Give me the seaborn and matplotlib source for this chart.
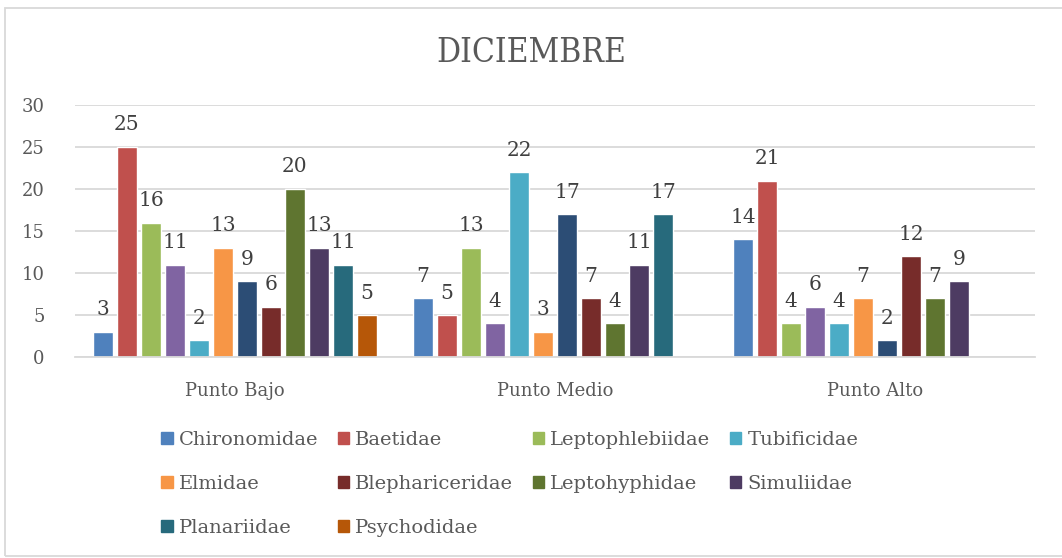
import numpy as np
import pandas as pd
import matplotlib
matplotlib.use("Agg")
import matplotlib.pyplot as plt
import seaborn as sns

puntos = ["Punto Bajo", "Punto Medio", "Punto Alto"]
familias = ["Chironomidae", "Baetidae", "Leptophlebiidae", "Serie 4", "Tubificidae",
            "Elmidae", "Serie 7", "Blephariceridae", "Leptohyphidae", "Simuliidae",
            "Planariidae", "Psychodidae"]
punto_bajo = [3, 25, 16, 11, 2, 13, 9, 6, 20, 13, 11, 5]
punto_medio = [7, 5, 13, 4, 22, 3, 17, 7, 4, 11, 17, 0]
punto_alto = [14, 21, 4, 6, 4, 7, 2, 12, 7, 9, 0, 0]
colores = ["#4F81BD", "#C0504D", "#9BBB59", "#8064A2", "#4BACC6", "#F79646",
           "#2C4D75", "#772C2A", "#5F7530", "#4D3B62", "#276A7C", "#B65708"]

rows = []
for p, vals in zip(puntos, [punto_bajo, punto_medio, punto_alto]):
    for f, v in zip(familias, vals):
        rows.append({"Punto": p, "Familia": f, "Valor": v})
df = pd.DataFrame(rows)

sns.set_style("white")
plt.rcParams["font.family"] = ["DejaVu Serif"]
gris = "#595959"

fig = plt.figure(figsize=(10.62, 5.58), dpi=100)
ax = fig.add_axes([0.0706, 0.360, 0.904, 0.452])

sns.barplot(data=df, x="Punto", y="Valor", hue="Familia", order=puntos,
            hue_order=familias, palette=dict(zip(familias, colores)),
            saturation=1, width=0.9, gap=0.2, ax=ax, legend=False)

for cont in ax.containers:
    labels = [f"{int(b.get_height())}" if b.get_height() > 0 else "" for b in cont]
    ax.bar_label(cont, labels=labels, padding=9, fontsize=14.5, color="#404040")

ax.set_ylim(0, 30)
ax.set_yticks(range(0, 31, 5))
ax.set_xlim(-0.5, 2.5)
ax.yaxis.grid(True, color="#D9D9D9", linewidth=1.3)
ax.set_axisbelow(True)
for s in ["left", "top", "right"]:
    ax.spines[s].set_visible(False)
ax.spines["bottom"].set_color("#D9D9D9")
ax.spines["bottom"].set_linewidth(1.3)
ax.tick_params(axis="both", length=0, labelsize=13, labelcolor=gris)
ax.tick_params(axis="x", pad=18)
ax.tick_params(axis="y", pad=22)
ax.set_xlabel("")
ax.set_ylabel("")

fig.text(0.5, 0.905, "DICIEMBRE", ha="center", va="center", fontsize=24,
         color=gris, fontstretch="condensed")

# legend, ordered so it reads row by row
orden = ["Chironomidae", "Elmidae", "Planariidae", "Baetidae", "Blephariceridae",
         "Psychodidae", "Leptophlebiidae", "Leptohyphidae", "Tubificidae", "Simuliidae"]
col = dict(zip(familias, colores))
handles = [plt.Rectangle((0, 0), 1, 1, color=col[f]) for f in orden]
fig.legend(handles, orden, loc="center", bbox_to_anchor=(0.48, 0.133), ncol=4,
           frameon=False, fontsize=14, labelcolor=gris, handlelength=0.6,
           handleheight=0.6, handletextpad=0.3, columnspacing=1.0, labelspacing=1.35)

fig.patches.append(plt.Rectangle((0.005, 0.003), 1.2, 0.983, transform=fig.transFigure,
                                 fill=False, edgecolor="#D9D9D9", linewidth=1.3))

fig.savefig("out.png", dpi=100)
